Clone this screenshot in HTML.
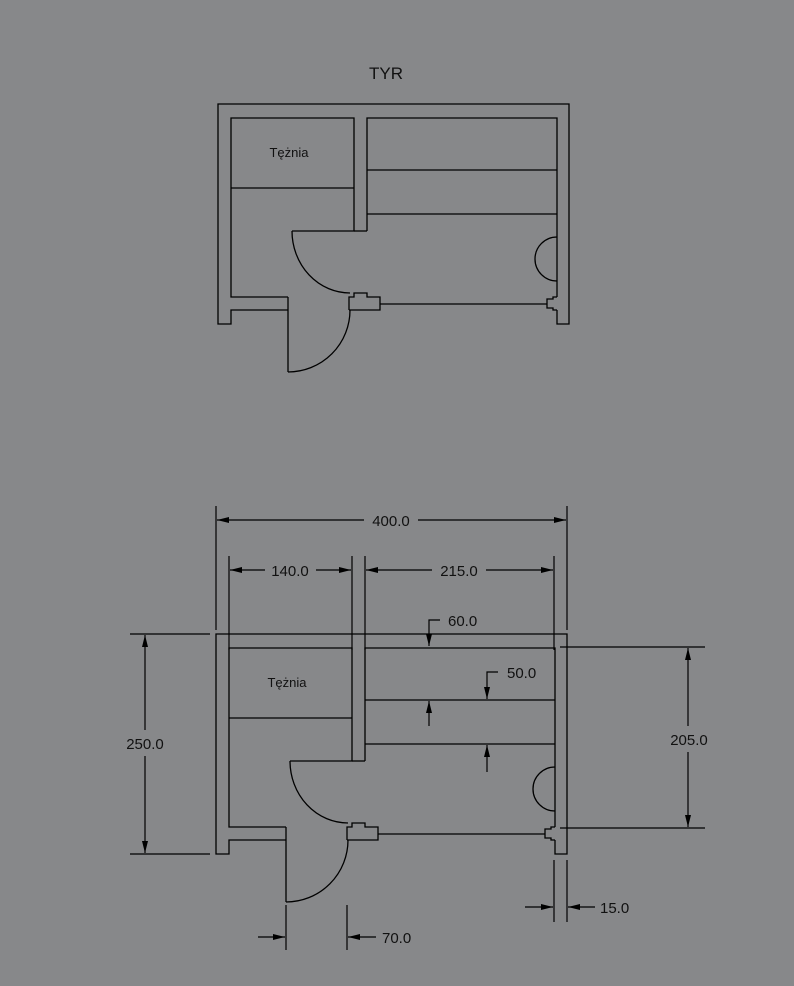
<!DOCTYPE html>
<html><head><meta charset="utf-8"><style>
html,body{margin:0;padding:0;background:#87888a;}
svg{display:block}
text{font-family:"Liberation Sans","DejaVu Sans",sans-serif;fill:#111;}
</style></head><body>
<svg width="794" height="986" viewBox="0 0 794 986" xmlns="http://www.w3.org/2000/svg">
<defs>
<g id="plan" fill="none" stroke="#000" stroke-width="1.3">
  <polyline points="288,310 231,310 231,324 218,324 218,104 569,104 569,324 557,324 557,310"/>
  <polyline points="288,297 231,297 231,118 354,118 354,231 292,231"/>
  <line x1="231" y1="188" x2="354" y2="188"/>
  <polyline points="367,231 367,118 557,118 557,297"/>
  <line x1="367" y1="170" x2="557" y2="170"/>
  <line x1="367" y1="214" x2="557" y2="214"/>
  <line x1="354" y1="231" x2="367" y2="231"/>
  <line x1="288" y1="297" x2="288" y2="372"/>
  <path d="M288,372 A62,62 0 0 0 350,310"/>
  <path d="M292,231 A58,62 0 0 0 350,293"/>
  <polyline points="349,310 349,297 354,297 354,293 367,293 367,297 380,297 380,310 349,310"/>
  <line x1="380" y1="304" x2="547" y2="304"/>
  <polyline points="557,297 553,297 553,299 547,299 547,308 553,308 553,310 557,310"/>
  <path d="M557,237 A22,22 0 0 0 557,281"/>
</g>
<marker id="ar" viewBox="0 0 12 6" refX="12" refY="3" markerWidth="12" markerHeight="6" orient="auto" markerUnits="userSpaceOnUse">
  <path d="M0,0 L12,3 L0,6 z" fill="#000"/>
</marker>
</defs>

<text x="386" y="79" font-size="17" text-anchor="middle">TYR</text>
<use href="#plan"/>
<text x="289" y="157" font-size="13" text-anchor="middle">Tężnia</text>

<g transform="translate(-2,530)"><use href="#plan"/></g>
<text x="287" y="687" font-size="13" text-anchor="middle">Tężnia</text>

<g stroke="#000" stroke-width="1.2" fill="none">
  <line x1="216" y1="506" x2="216" y2="630"/>
  <line x1="567" y1="506" x2="567" y2="630"/>
  <line x1="364" y1="520" x2="217" y2="520" marker-end="url(#ar)"/>
  <line x1="418" y1="520" x2="566" y2="520" marker-end="url(#ar)"/>
  <line x1="229" y1="556" x2="229" y2="650"/>
  <line x1="352" y1="556" x2="352" y2="650"/>
  <line x1="365" y1="556" x2="365" y2="650"/>
  <line x1="554" y1="556" x2="554" y2="650"/>
  <line x1="265" y1="570" x2="230" y2="570" marker-end="url(#ar)"/>
  <line x1="316" y1="570" x2="351" y2="570" marker-end="url(#ar)"/>
  <line x1="432" y1="570" x2="366" y2="570" marker-end="url(#ar)"/>
  <line x1="486" y1="570" x2="553" y2="570" marker-end="url(#ar)"/>
  <polyline points="440,620 429,620 429,646" marker-end="url(#ar)"/>
  <polyline points="498,672 487,672 487,699" marker-end="url(#ar)"/>
  <line x1="429" y1="726" x2="429" y2="701" marker-end="url(#ar)"/>
  <line x1="487" y1="772" x2="487" y2="745" marker-end="url(#ar)"/>
  <line x1="130" y1="634" x2="210" y2="634"/>
  <line x1="130" y1="854" x2="210" y2="854"/>
  <line x1="145" y1="730" x2="145" y2="635" marker-end="url(#ar)"/>
  <line x1="145" y1="756" x2="145" y2="853" marker-end="url(#ar)"/>
  <line x1="560" y1="647" x2="705" y2="647"/>
  <line x1="560" y1="828" x2="705" y2="828"/>
  <line x1="688" y1="726" x2="688" y2="648" marker-end="url(#ar)"/>
  <line x1="688" y1="752" x2="688" y2="827" marker-end="url(#ar)"/>
  <line x1="554" y1="860" x2="554" y2="922"/>
  <line x1="567" y1="860" x2="567" y2="922"/>
  <line x1="525" y1="907" x2="553" y2="907" marker-end="url(#ar)"/>
  <line x1="595" y1="907" x2="568" y2="907" marker-end="url(#ar)"/>
  <line x1="286" y1="905" x2="286" y2="950"/>
  <line x1="347" y1="905" x2="347" y2="950"/>
  <line x1="258" y1="937" x2="285" y2="937" marker-end="url(#ar)"/>
  <line x1="376" y1="937" x2="348" y2="937" marker-end="url(#ar)"/>
</g>

<g font-size="15">
  <text x="391" y="526" text-anchor="middle">400.0</text>
  <text x="290" y="576" text-anchor="middle">140.0</text>
  <text x="459" y="576" text-anchor="middle">215.0</text>
  <text x="448" y="626">60.0</text>
  <text x="507" y="678">50.0</text>
  <text x="145" y="749" text-anchor="middle">250.0</text>
  <text x="689" y="745" text-anchor="middle">205.0</text>
  <text x="600" y="913">15.0</text>
  <text x="382" y="943">70.0</text>
</g>
</svg>
</body></html>
